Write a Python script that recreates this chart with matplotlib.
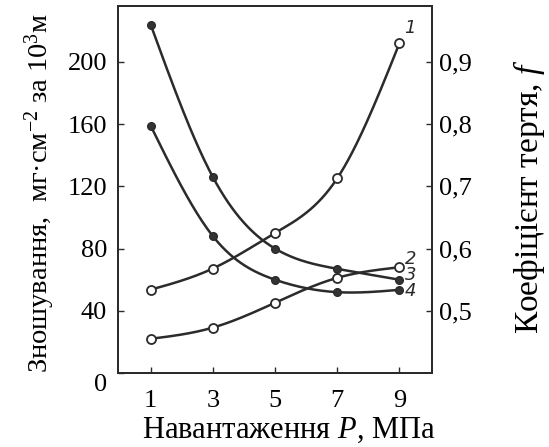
import numpy as np
import matplotlib
matplotlib.use('Agg')
import matplotlib.pyplot as plt
import matplotlib.transforms as mtransforms

plt.rcParams['font.family'] = ['Liberation Serif', 'DejaVu Serif']
plt.rcParams['mathtext.fontset'] = 'custom'
plt.rcParams['mathtext.rm'] = 'Liberation Serif'
plt.rcParams['mathtext.it'] = 'Liberation Serif:italic'

# load, MPa
load = [1, 3, 5, 7, 9]

# friction coefficient (right axis), open circles
friction_1 = [0.534, 0.568, 0.625, 0.713, 0.930]
friction_2 = [0.455, 0.473, 0.513, 0.553, 0.570]

# wear, mg/cm^2 per 10^3 m (left axis), filled dots
wear_3 = [224, 126, 80, 67, 60]
wear_4 = [159, 88, 60, 52, 53.5]

wear_ticks = [0, 40, 80, 120, 160, 200]
friction_ticks = [0.5, 0.6, 0.7, 0.8, 0.9]
load_ticks = [1, 3, 5, 7, 9]

ink = '#2b2b2b'


def smooth(x, y, n=200):
    # natural cubic spline through the points, just for drawing the curve
    x = np.asarray(x, float)
    y = np.asarray(y, float)
    h = np.diff(x)
    m = len(x)
    A = np.zeros((m, m))
    b = np.zeros(m)
    A[0, 0] = A[-1, -1] = 1
    for i in range(1, m - 1):
        A[i, i - 1] = h[i - 1]
        A[i, i] = 2 * (h[i - 1] + h[i])
        A[i, i + 1] = h[i]
        b[i] = 3 * ((y[i + 1] - y[i]) / h[i] - (y[i] - y[i - 1]) / h[i - 1])
    c = np.linalg.solve(A, b)
    xs = np.linspace(x[0], x[-1], n)
    idx = np.clip(np.searchsorted(x, xs) - 1, 0, m - 2)
    t = xs - x[idx]
    bb = (y[idx + 1] - y[idx]) / h[idx] - h[idx] * (2 * c[idx] + c[idx + 1]) / 3
    dd = (c[idx + 1] - c[idx]) / (3 * h[idx])
    return xs, y[idx] + bb * t + c[idx] * t**2 + dd * t**3


fig = plt.figure(figsize=(5.49, 4.47), dpi=100)
ax = fig.add_axes([0.215, 0.1655, 0.572, 0.8211])
ax2 = ax.twinx()

ax.set_xlim(-0.05, 10.05)
ax.set_ylim(0, 236)
ax2.set_ylim(0.4, 0.4 + 236 / 400)

for ys in (wear_3, wear_4):
    xs, ss = smooth(load, ys)
    ax.plot(xs, ss, color=ink, lw=1.8, zorder=2)
    ax.plot(load, ys, 'o', ms=5.5, color='#333333', mec=ink, zorder=3)

for ys in (friction_1, friction_2):
    xs, ss = smooth(load, ys)
    ax2.plot(xs, ss, color=ink, lw=1.8, zorder=2)
    ax2.plot(load, ys, 'o', ms=6.5, mfc='white', mec=ink, mew=1.3, zorder=3)

# curve numbers
num_style = dict(fontsize=13, family='DejaVu Sans', style='italic',
                 ha='center', va='center', color=ink)
ax.text(9.33, 222, '1', **num_style)
ax.text(9.35, 73.5, '2', **num_style)
ax.text(9.35, 63, '3', **num_style)
ax.text(9.35, 52.5, '4', **num_style)

ax.set_xticks(load_ticks)
ax.set_yticks(wear_ticks)
ax2.set_yticks(friction_ticks)
ax2.set_yticklabels([('%.1f' % v).replace('.', ',') for v in friction_ticks])

ax.tick_params(direction='in', length=4, width=1, color=ink, labelsize=19)
ax.tick_params(axis='x', pad=12)
ax.tick_params(axis='y', pad=8)
ax2.tick_params(direction='in', length=4, width=1, color=ink, labelsize=19, pad=5)

# the origin label sits a bit lower
lab0 = ax.get_yticklabels()[0]
lab0.set_transform(lab0.get_transform() + mtransforms.ScaledTranslation(0, -9 / 100, fig.dpi_scale_trans))

for a in (ax, ax2):
    for s in a.spines.values():
        s.set_color(ink)
        s.set_linewidth(1.4)

fig.text(289 / 549, 1 - 430 / 447, 'Навантаження $\\mathit{P}$, МПа', fontsize=22,
         ha='center', va='center')
fig.text(40 / 549, 1 - 193 / 447, 'Зношування,  мг·см$^{-2}$ за 10$^{3}$м', fontsize=20.5,
         rotation=90, ha='center', va='center')
fig.text(529 / 549, 1 - 197 / 447, 'Коефіцієнт тертя, $\\mathit{f}$', fontsize=24,
         rotation=90, ha='center', va='center')

fig.savefig('out.png', dpi=100)
